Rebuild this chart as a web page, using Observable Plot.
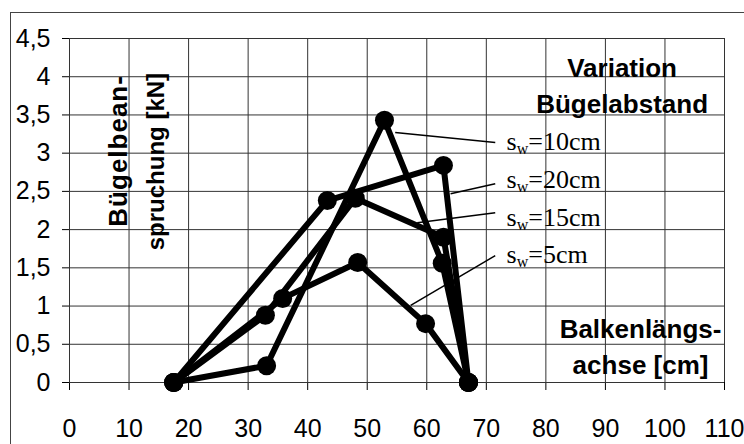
<!DOCTYPE html>
<html>
<head>
<meta charset="utf-8">
<script src="https://cdn.jsdelivr.net/npm/d3@7"></script>
<script src="https://cdn.jsdelivr.net/npm/@observablehq/plot@0.6"></script>
<style>
  html, body { margin: 0; padding: 0; background: #fff; overflow: hidden; }
  #wrap { position: relative; width: 744px; height: 444px; }
  #border { position: absolute; left: 10px; top: 12px; width: 900px; height: 600px; border-left: 1px solid #444; border-top: 1px solid #444; box-sizing: border-box; }
  #chart { position: absolute; left: 0; top: 0; }
</style>
</head>
<body>
<div id="wrap"><div id="border"></div><div id="chart"></div></div>
<script>
// ---- data ----
const seriesNames = ["sw=10cm", "sw=20cm", "sw=15cm", "sw=5cm"];
const x10 = [17.5, 33.1, 52.9, 62.6, 67.0];
const y10 = [0, 0.22, 3.43, 1.56, 0];
const x20 = [17.5, 43.3, 62.8, 67.0];
const y20 = [0, 2.38, 2.84, 0];
const x15 = [17.5, 32.9, 48.0, 62.8, 67.0];
const y15 = [0, 0.88, 2.41, 1.90, 0];
const x5 = [17.5, 35.8, 48.4, 59.8, 67.0];
const y5 = [0, 1.10, 1.57, 0.77, 0];

// leader lines from curves to the labels (data units)
const leadX1 = [54.7, 64.0, 58.4, 57.3];
const leadY1 = [3.27, 2.47, 2.09, 1.01];
const leadX2 = [71.5, 71.5, 71.5, 71.5];
const leadY2 = [3.14, 2.60, 2.22, 1.66];
const labelY = [3.035, 2.54, 2.05, 1.557];

const xTicks = [0, 10, 20, 30, 40, 50, 60, 70, 80, 90, 100, 110];
const yTicks = [0, 0.5, 1, 1.5, 2, 2.5, 3, 3.5, 4, 4.5];

const titleLines = ["Variation", "Bügelabstand"];
const xTitleLines = ["Balkenlängs-", "achse [cm]"];
const yTitleLines = ["Bügelbean-", "spruchung [kN]"];

// ---- build tables ----
const xs = [x10, x20, x15, x5], ys = [y10, y20, y15, y5];
const points = [];
seriesNames.forEach((s, i) => xs[i].forEach((x, j) => points.push({series: s, x, y: ys[i][j]})));
const leaders = seriesNames.map((s, i) => ({s, x1: leadX1[i], y1: leadY1[i], x2: leadX2[i], y2: leadY2[i], ly: labelY[i]}));

const fmt = d => String(d).replace(".", ",");

const plot = Plot.plot({
  width: 744,
  height: 444,
  marginLeft: 69,
  marginRight: 20,
  marginTop: 38,
  marginBottom: 62,
  style: {fontFamily: "'Liberation Sans', Arial, sans-serif", fontSize: "25px", background: "transparent", color: "#000"},
  x: {domain: [0, 110], ticks: xTicks, tickSize: 8, tickPadding: 29, tickFormat: fmt, label: null},
  y: {domain: [0, 4.5], ticks: yTicks, tickSize: 7, tickPadding: 12, tickFormat: fmt, label: null},
  marks: [
    Plot.ruleX(xTicks, {x: d => d, stroke: "#333", strokeWidth: 1}),
    Plot.ruleY(yTicks, {y: d => d, stroke: "#333", strokeWidth: 1}),
    Plot.text([titleLines[0]], {x: 92.8, y: 4.0, text: d => d, fontWeight: "bold", fontSize: 26, textAnchor: "middle", lineAnchor: "bottom"}),
    Plot.text([titleLines[1]], {x: 92.8, y: 3.52, text: d => d, fontWeight: "bold", fontSize: 26, textAnchor: "middle", lineAnchor: "bottom"}),
    Plot.text([xTitleLines[0]], {x: 95.9, y: 0.576, text: d => d, fontWeight: "bold", fontSize: 26, textAnchor: "middle", lineAnchor: "bottom"}),
    Plot.text([xTitleLines[1]], {x: 95.9, y: 0.105, text: d => d, fontWeight: "bold", fontSize: 26, textAnchor: "middle", lineAnchor: "bottom"}),
    Plot.text([yTitleLines[0]], {x: 9.74, y: 3.03, text: d => d, fontWeight: "bold", fontSize: 26, rotate: -90, textAnchor: "middle", lineAnchor: "bottom"}),
    Plot.text([yTitleLines[1]], {x: 15.79, y: 2.89, text: d => d, fontWeight: "bold", fontSize: 24, rotate: -90, textAnchor: "middle", lineAnchor: "bottom"}),
    Plot.line(points, {x: "x", y: "y", z: "series", stroke: "#000", strokeWidth: 6, strokeLinejoin: "round"}),
    Plot.dot(points, {x: "x", y: "y", r: 9.5, fill: "#000", stroke: "none"}),
    Plot.link(leaders, {x1: "x1", y1: "y1", x2: "x2", y2: "y2", stroke: "#000", strokeWidth: 1.5}),
    Plot.text(leaders, {x: 73.4, y: "ly", text: "s", fontFamily: "'Liberation Serif', 'Times New Roman', serif", fontSize: 26, textAnchor: "start", lineAnchor: "bottom"})
  ]
});

document.getElementById("chart").appendChild(plot);

// subscript "w" in the s_w labels
d3.select(plot).selectAll("text")
  .filter(function () { return this.textContent.startsWith("sw="); })
  .each(function () {
    const rest = this.textContent.slice(2);
    const sel = d3.select(this);
    sel.text(null);
    sel.append("tspan").text("s");
    sel.append("tspan").attr("font-size", 16).attr("dy", 4).text("w");
    sel.append("tspan").attr("dy", -4).text(rest);
  });
d3.select(plot).selectAll("text")
  .filter(function () { return this.textContent === "Bügelbean-"; })
  .attr("letter-spacing", "1px");
</script>
</body>
</html>
